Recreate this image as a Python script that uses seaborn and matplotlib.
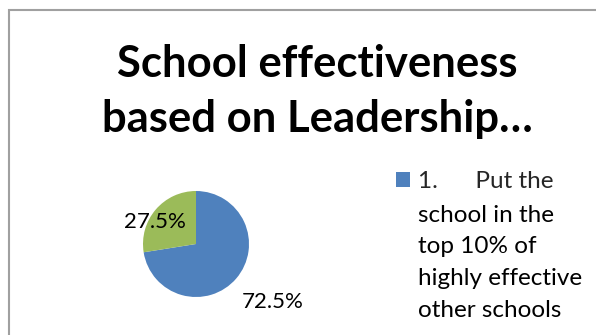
import matplotlib
matplotlib.use("Agg")
import matplotlib.pyplot as plt
import seaborn as sns
import numpy as np
from matplotlib.patches import Rectangle

# ---- data ----
categories = ["1.      Put the school in the top 10% of highly effective other schools", "Other"]
values = [72.5, 27.5]
value_labels = ["72.5%", "27.5%"]
colors = ["#4F81BD", "#9BBB59"]
title_lines = ["School effectiveness", "based on Leadership…"]
legend_lines = ["1.      Put the", "school in the", "top 10% of", "highly effective", "other schools"]

# ---- style ----
sns.set_style("white")
plt.rcParams['font.family'] = ['Lato', 'DejaVu Sans']

W, H = 596, 335
fig = plt.figure(figsize=(W / 100, H / 100), dpi=100)
fig.patch.set_facecolor("white")
fig.canvas.draw()
renderer = fig.canvas.get_renderer()


def fit(txt, target_px, **kw):
    t = fig.text(0, 0, txt, fontsize=10, **kw)
    w = t.get_window_extent(renderer).width
    t.remove()
    return 10 * target_px / w


def fx(px):
    return px / W


def fy(py):
    return 1 - py / H


# chart border (cut off at right and bottom)
fig.patches.append(Rectangle((fx(9), -0.2), 1.5, fy(10) + 0.2, transform=fig.transFigure,
                             fill=False, edgecolor="#A0A0A0", linewidth=1.5))

# title
tsize = fit(title_lines[0], 402, fontweight="bold")
fig.text(fx(317), fy(77), title_lines[0], ha="center", va="baseline",
         fontsize=tsize, fontweight="bold", color="black")
fig.text(fx(317), fy(132), title_lines[1], ha="center", va="baseline",
         fontsize=tsize, fontweight="bold", color="black")

# pie
cx, cy, r = 196, 244, 53
ax = fig.add_axes([fx(cx - r), fy(cy + r), 2 * r / W, 2 * r / H])
wedges, _ = ax.pie(values, colors=colors, startangle=90, counterclock=False,
                   radius=1, wedgeprops=dict(linewidth=0))
ax.set_xlim(-1, 1)
ax.set_ylim(-1, 1)
ax.set_aspect("equal")
ax.axis("off")

lsize = fit("72.5%", 62)
label_angle_offset = [3.5, 12.5]
label_dist = [1.82, 0.88]
for w, lab, da, d in zip(wedges, value_labels, label_angle_offset, label_dist):
    ang = np.deg2rad((w.theta1 + w.theta2) / 2 + da)
    ax.text(d * np.cos(ang), d * np.sin(ang), lab, ha="center", va="center",
            fontsize=lsize, color="black", clip_on=False)

# legend
gsize = fit("highly effective", 164)
fpx = gsize * 100 / 72
hl = 14 / fpx
leg = fig.legend(handles=[wedges[0]], labels=[legend_lines[0]], loc="upper left",
                 bbox_to_anchor=(fx(396), fy(171)), frameon=False, fontsize=gsize,
                 handlelength=hl, handleheight=hl, handletextpad=8 / fpx,
                 borderpad=0, borderaxespad=0)
base0 = 190
spacing = 31.7
for i, line in enumerate(legend_lines[1:], start=1):
    fig.text(fx(418), fy(base0 + i * spacing), line, ha="left", va="baseline",
             fontsize=gsize, color="black")

fig.savefig("out.png", dpi=100, facecolor="white")
